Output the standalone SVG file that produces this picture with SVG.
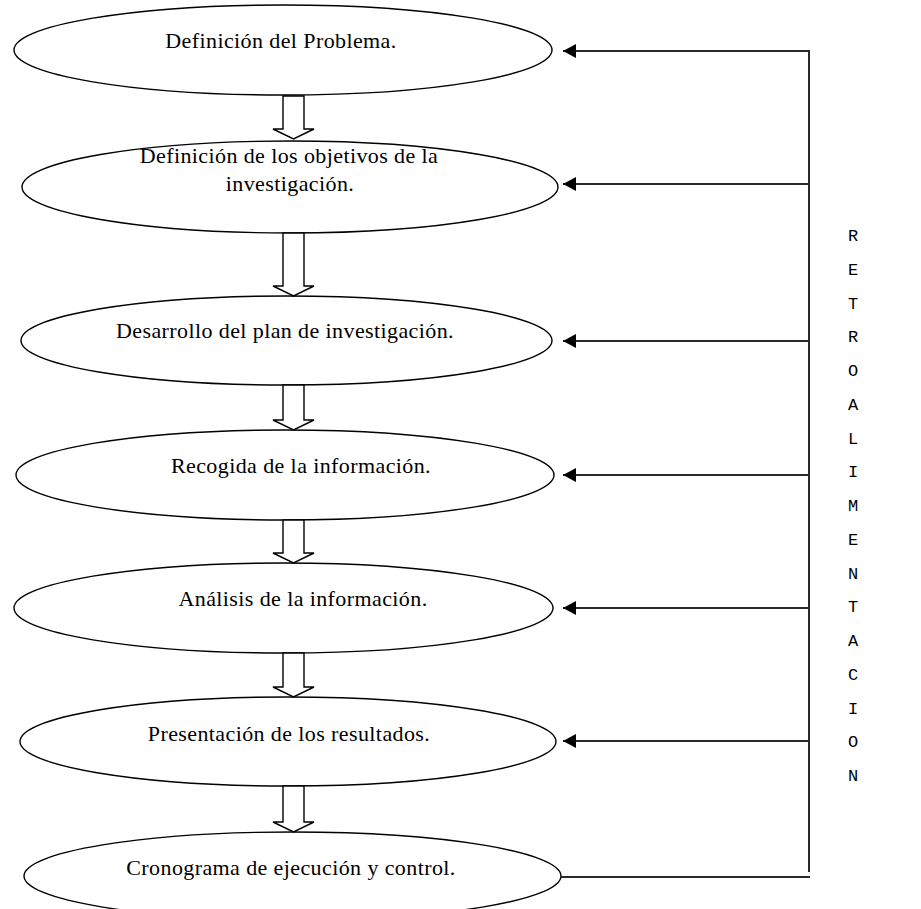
<svg xmlns="http://www.w3.org/2000/svg" width="921" height="909" viewBox="0 0 921 909">
<defs>
<style>
.node ellipse{fill:#fff;stroke:#000;stroke-width:1.4}
.node text{font-family:"Liberation Serif","Times New Roman",serif;font-size:22px;letter-spacing:0.4px;fill:#000;text-anchor:middle}
.blk{fill:#fff;stroke:#000;stroke-width:1.4}
.fb{stroke:#2a2a2a;stroke-width:2;fill:none}
.lbl{font-family:"Liberation Mono","Courier New",monospace;font-size:17px;fill:#000;text-anchor:middle}
</style>
<marker id="ah" markerUnits="userSpaceOnUse" markerWidth="14" markerHeight="14" refX="13" refY="7" orient="auto">
<path d="M0,0 L13,7 L0,14 Z" fill="#000"/>
</marker>
</defs>
<rect width="921" height="909" fill="#fff"/>
<g id="n1" class="node"><ellipse cx="283" cy="50" rx="269" ry="45"/><text x="281" y="48">Definición del Problema.</text></g>
<g id="n2" class="node"><ellipse cx="290" cy="187" rx="268" ry="46"/><text x="289" y="163">Definición de los objetivos de la</text><text x="290" y="191">investigación.</text></g>
<g id="n3" class="node"><ellipse cx="286.5" cy="340.5" rx="265.5" ry="44.5"/><text x="285" y="338">Desarrollo del plan de investigación.</text></g>
<g id="n4" class="node"><ellipse cx="285" cy="475" rx="269" ry="45"/><text x="301" y="473">Recogida de la información.</text></g>
<g id="n5" class="node"><ellipse cx="283.5" cy="608" rx="269.5" ry="45"/><text x="303" y="606">Análisis de la información.</text></g>
<g id="n6" class="node"><ellipse cx="288" cy="741.5" rx="268" ry="44.5"/><text x="289" y="741">Presentación de los resultados.</text></g>
<g id="n7" class="node"><ellipse cx="292.5" cy="876" rx="268.5" ry="44"/><text x="291" y="875">Cronograma de ejecución y control.</text></g>
<g id="connectors">
<path class="blk" d="M283,96 V129 H273 L293.5,139 L314,129 H304 V96 Z"/>
<path class="blk" d="M283,233 V286 H273 L293.5,296 L314,286 H304 V233 Z"/>
<path class="blk" d="M283,385 V420 H273 L293.5,430 L314,420 H304 V385 Z"/>
<path class="blk" d="M283,520 V553 H273 L293.5,563 L314,553 H304 V520 Z"/>
<path class="blk" d="M283,653 V687 H273 L293.5,697 L314,687 H304 V653 Z"/>
<path class="blk" d="M283,786 V822 H273 L293.5,832 L314,822 H304 V786 Z"/>
<line class="fb" x1="809" y1="50" x2="809" y2="872"/>
<line class="fb" x1="561" y1="877" x2="810" y2="877"/>
<line class="fb" x1="810" y1="51" x2="563" y2="51" marker-end="url(#ah)"/>
<line class="fb" x1="810" y1="184" x2="563" y2="184" marker-end="url(#ah)"/>
<line class="fb" x1="810" y1="341" x2="563" y2="341" marker-end="url(#ah)"/>
<line class="fb" x1="810" y1="475" x2="563" y2="475" marker-end="url(#ah)"/>
<line class="fb" x1="810" y1="608" x2="563" y2="608" marker-end="url(#ah)"/>
<line class="fb" x1="810" y1="741" x2="563" y2="741" marker-end="url(#ah)"/>
</g>
<g id="label">
<text class="lbl" x="853" y="241">R</text>
<text class="lbl" x="853" y="275">E</text>
<text class="lbl" x="853" y="309">T</text>
<text class="lbl" x="853" y="342">R</text>
<text class="lbl" x="853" y="376">O</text>
<text class="lbl" x="853" y="410">A</text>
<text class="lbl" x="853" y="444">L</text>
<text class="lbl" x="853" y="477">I</text>
<text class="lbl" x="853" y="511">M</text>
<text class="lbl" x="853" y="545">E</text>
<text class="lbl" x="853" y="579">N</text>
<text class="lbl" x="853" y="612">T</text>
<text class="lbl" x="853" y="646">A</text>
<text class="lbl" x="853" y="680">C</text>
<text class="lbl" x="853" y="714">I</text>
<text class="lbl" x="853" y="747">O</text>
<text class="lbl" x="853" y="781">N</text>
</g>
</svg>
